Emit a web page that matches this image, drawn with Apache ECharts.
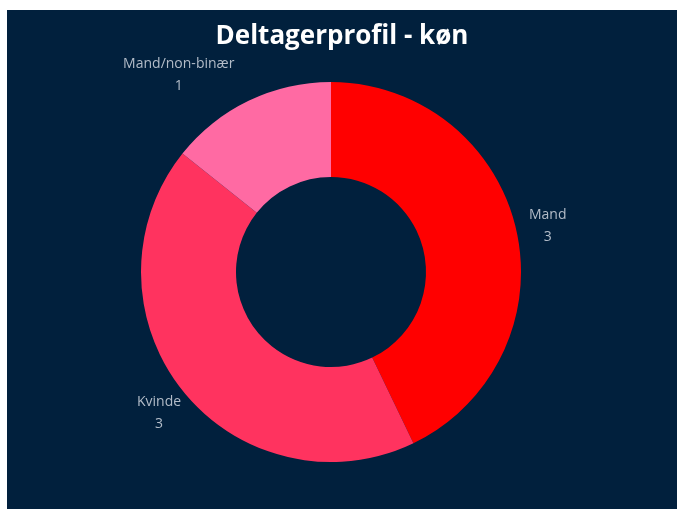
<!DOCTYPE html>
<html>
<head>
<meta charset="utf-8">
<script src="https://cdn.jsdelivr.net/npm/echarts@6/dist/echarts.min.js"></script>
<style>
  html, body { margin: 0; padding: 0; background: #ffffff; }
  #chart { position: absolute; left: 7px; top: 10px; width: 670px; height: 499px; }
</style>
</head>
<body>
<div id="chart"></div>
<script>
// data
const categories = ['Mand', 'Kvinde', 'Mand/non-binær'];
const values = [3, 3, 1];
const colors = ['#ff0000', '#ff335f', '#ff6aa3'];

// small label nudges per slice
const labelShift = [[-12, -1], [21, 15], [4, -15]];

const chart = echarts.init(document.getElementById('chart'));

chart.setOption({
  backgroundColor: '#01203d',
  title: {
    text: 'Deltagerprofil - køn',
    left: 'center',
    top: 9,
    textStyle: { color: '#ffffff', fontSize: 26, fontWeight: 'bold', fontFamily: 'Open Sans' }
  },
  series: [{
    type: 'pie',
    center: [324, 262],
    radius: [95, 190],
    startAngle: 90,
    clockwise: true,
    data: categories.map((c, i) => ({ name: c, value: values[i], itemStyle: { color: colors[i] } })),
    label: {
      show: true,
      position: 'outside',
      formatter: '{t|{b}}\n{t|{c}}',
      rich: {
        t: {
          align: 'center',
          color: '#b3bcc8',
          fontSize: 14,
          lineHeight: 22,
          fontFamily: 'Open Sans'
        }
      }
    },
    labelLine: { show: false, length: 12, length2: 8 },
    labelLayout: function (p) {
      const s = labelShift[p.dataIndex];
      return { dx: s[0], dy: s[1] };
    },
    emphasis: { disabled: true }
  }]
});
</script>
</body>
</html>
